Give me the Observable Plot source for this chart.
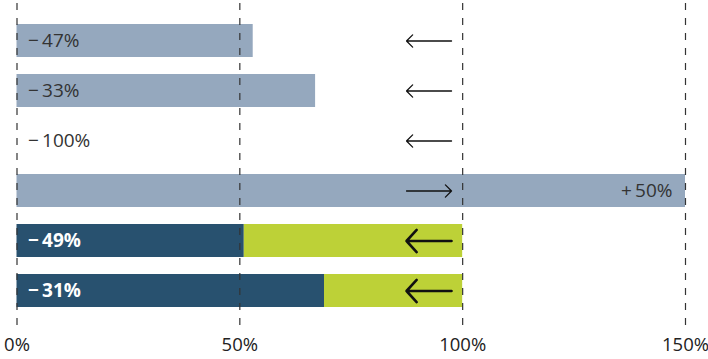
<!DOCTYPE html>
<html>
<head>
<meta charset="utf-8">
<script src="https://cdn.jsdelivr.net/npm/d3@7"></script>
<script src="https://cdn.jsdelivr.net/npm/@observablehq/plot@0.6"></script>
<style>
  html, body { margin: 0; padding: 0; background: #fff; }
  #chart { width: 708px; height: 359px; }
</style>
</head>
<body>
<div id="chart"></div>
<script>
// Rows (top to bottom)
const rowIds = ["r1", "r2", "r3", "r4", "r5", "r6"];
// Bar end values, percent of reference (100%)
const shares = [53, 67, 0, 150, 51, 69];
// Change labels
const changeLabels = ["\u2212\u200947%", "\u2212\u200933%", "\u2212\u2009100%", "+\u200950%", "\u2212\u200949%", "\u2212\u200931%"];
// Highlighted (dark + green) rows
const highlighted = [false, false, false, false, true, true];
// Reference level
const baseline = 100;
// Arrow start / end (percent)
const arrowFrom = [97.5, 97.5, 97.5, 87.4, 97.5, 97.5];
const arrowTo = [87.4, 87.4, 87.4, 97.5, 87.4, 87.4];
// Axis ticks
const xTicks = [0, 50, 100, 150];

const data = rowIds.map((id, i) => ({
  id, value: shares[i], label: changeLabels[i], hl: highlighted[i],
  from: arrowFrom[i], to: arrowTo[i], up: shares[i] > baseline
}));
const light = data.filter(d => !d.hl);
const dark = data.filter(d => d.hl);

const chart = Plot.plot({
  width: 708,
  height: 359,
  marginLeft: 16.5,
  marginRight: 23,
  marginTop: 15,
  marginBottom: 44,
  style: { fontFamily: "'Open Sans', sans-serif", background: "#fff", overflow: "visible" },
  x: { domain: [0, 150] },
  y: { domain: rowIds, paddingInner: 0.34, paddingOuter: 0.17, axis: null },
  marks: [
    Plot.barX(light.filter(d => d.value > 0), { x1: 0, x2: "value", y: "id", fill: "#95a8be" }),
    Plot.barX(dark, { x1: 0, x2: "value", y: "id", fill: "#28516f" }),
    Plot.barX(dark, { x1: "value", x2: baseline, y: "id", fill: "#bdd137" }),
    Plot.ruleX(xTicks, { stroke: "#333", strokeWidth: 1.2, strokeDasharray: "7,8", insetTop: -12, insetBottom: -12 }),
    Plot.arrow(light, { x1: "from", x2: "to", y: "id", stroke: "#111", strokeWidth: 1.3, headLength: 10, headAngle: 90 }),
    Plot.arrow(dark, { x1: "from", x2: "to", y: "id", stroke: "#111", strokeWidth: 2.6, headLength: 12, headAngle: 95 }),
    Plot.text(light.filter(d => !d.up), { x: 0, y: "id", text: "label", textAnchor: "start", dx: 11, fill: "#333", fontSize: 19 }),
    Plot.text(light.filter(d => d.up), { x: "value", y: "id", text: "label", textAnchor: "end", dx: -13, fill: "#333", fontSize: 19 }),
    Plot.text(dark, { x: 0, y: "id", text: "label", textAnchor: "start", dx: 11, fill: "#fff", fontWeight: "bold", fontSize: 19 }),
    Plot.axisX({ ticks: xTicks, tickSize: 0, tickPadding: 22, tickFormat: d => d + "%", fontSize: 18.5, fill: "#222" })
  ]
});
document.getElementById("chart").appendChild(chart);
</script>
</body>
</html>
